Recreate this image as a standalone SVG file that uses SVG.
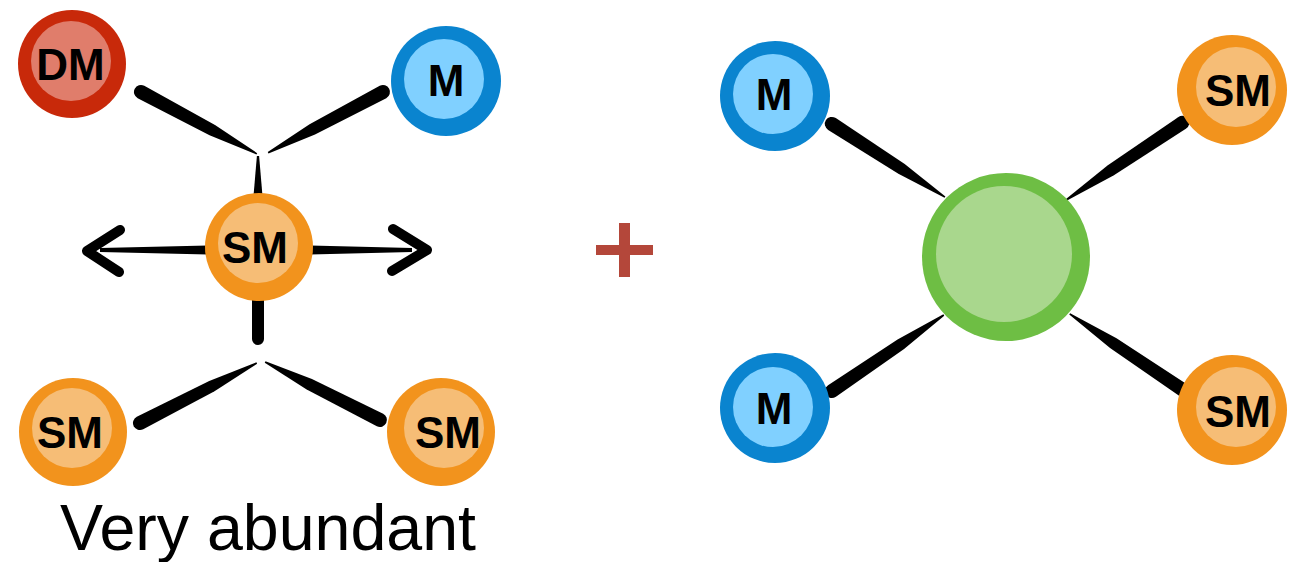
<svg xmlns="http://www.w3.org/2000/svg" width="1301" height="562" viewBox="0 0 1301 562">
  <style>
    .bg { fill: #ffffff; }
    .red-ring { fill: #C8290A; }
    .red-fill { fill: #E07D6B; }
    .blue-ring { fill: #0A84CF; }
    .blue-fill { fill: #80D0FF; }
    .orange-ring { fill: #F2931D; }
    .orange-fill { fill: #F6BD76; }
    .green-ring { fill: #6EBE44; }
    .green-fill { fill: #A9D78D; }
    .label { font-family: "Liberation Sans", Arial, sans-serif; font-weight: bold; font-size: 44px; fill: #000; text-anchor: middle; }
    .caption { font-family: "Liberation Sans", Arial, sans-serif; font-size: 64.5px; fill: #000; }
    .ink { fill: #000; }
    .chevron { fill: none; stroke: #000; stroke-width: 10; stroke-linecap: round; stroke-linejoin: round; }
    .plus { fill: #B4473A; }
  </style>
  <defs>
    <!-- brush stroke: thick rounded end at x=0, tapering to a point at x=130 -->
    <path id="brush" d="M 0 -7 L 80 -5.8 L 130 -0.8 L 130 0.8 L 80 5.8 L 0 7 A 7 7 0 0 1 0 -7 Z"/>
  </defs>

  <rect class="bg" x="0" y="0" width="1301" height="562"/>

  <g id="connectors">
    <!-- left cluster -->
    <use href="#brush" class="ink" transform="translate(141 92) rotate(28.1) scale(1.01 1)"/>
    <use href="#brush" class="ink" transform="translate(383 92) rotate(152.1) scale(1 1)"/>
    <path class="ink" d="M 253.5 196 L 256.9 156 L 259.1 156 L 262.5 196 Z"/>
    <line x1="258" y1="298" x2="258" y2="339" stroke="#000" stroke-width="12" stroke-linecap="round"/>
    <use href="#brush" class="ink" transform="translate(140 423) rotate(-27.2) scale(1.01 1)"/>
    <use href="#brush" class="ink" transform="translate(380 420) rotate(206.8) scale(0.99 1)"/>
    <!-- diffusion arrows -->
    <path class="ink" d="M 208 245.5 L 100 248 L 100 252 L 208 254.5 Z"/>
    <polyline class="chevron" points="120,230 87,251 119,272"/>
    <path class="ink" d="M 310 245.5 L 412 248 L 412 252 L 310 254.5 Z"/>
    <polyline class="chevron" points="393,229 427,250 392,271"/>
    <!-- right cluster -->
    <use href="#brush" class="ink" transform="translate(832 124) rotate(32.9) scale(1.035 1)"/>
    <use href="#brush" class="ink" transform="translate(1182 123) rotate(146.4) scale(1.07 1)"/>
    <use href="#brush" class="ink" transform="translate(832 391) rotate(-34.2) scale(1.04 1)"/>
    <use href="#brush" class="ink" transform="translate(1183 390) rotate(213.9) scale(1.05 1)"/>
  </g>

  <!-- left cluster nodes: outer ring disc with an off-centre inner fill -->
  <g id="node-dm" transform="translate(72 64)">
    <circle class="red-ring" r="54"/>
    <circle class="red-fill" cx="-1" cy="-3" r="40"/>
    <text class="label" x="-1.5" y="16">DM</text>
  </g>
  <g id="node-m-left" transform="translate(446 81)">
    <circle class="blue-ring" r="55"/>
    <circle class="blue-fill" cx="-2" cy="-2" r="40"/>
    <text class="label" x="0" y="15">M</text>
  </g>
  <g id="node-sm-center" transform="translate(259 247)">
    <circle class="orange-ring" r="54"/>
    <circle class="orange-fill" cx="-1" cy="-4" r="40"/>
    <text class="label" x="-4" y="16">SM</text>
  </g>
  <g id="node-sm-bottom-left" transform="translate(73 432)">
    <circle class="orange-ring" r="54"/>
    <circle class="orange-fill" cx="-1" cy="-4" r="40"/>
    <text class="label" x="-3" y="16">SM</text>
  </g>
  <g id="node-sm-bottom-right" transform="translate(441 432)">
    <circle class="orange-ring" r="54"/>
    <circle class="orange-fill" cx="3" cy="-4" r="40"/>
    <text class="label" x="7" y="16">SM</text>
  </g>

  <text id="caption" class="caption" x="60" y="550">Very abundant</text>

  <!-- plus sign -->
  <g id="plus">
    <rect class="plus" x="619" y="223" width="11" height="54"/>
    <rect class="plus" x="596" y="245" width="57" height="10"/>
  </g>

  <!-- right cluster nodes -->
  <g id="node-center" transform="translate(1006 257)">
    <circle class="green-ring" r="84"/>
    <circle class="green-fill" cx="-2" cy="-3" r="68"/>
  </g>
  <g id="node-m-top" transform="translate(775 96)">
    <circle class="blue-ring" r="55"/>
    <circle class="blue-fill" cx="-2" cy="-2" r="40"/>
    <text class="label" x="-1" y="14">M</text>
  </g>
  <g id="node-sm-top" transform="translate(1232 90)">
    <circle class="orange-ring" r="55"/>
    <circle class="orange-fill" cx="4" cy="-3" r="40"/>
    <text class="label" x="6" y="16">SM</text>
  </g>
  <g id="node-m-bottom" transform="translate(775 408)">
    <circle class="blue-ring" r="55"/>
    <circle class="blue-fill" cx="-2" cy="-1" r="40"/>
    <text class="label" x="-1" y="16">M</text>
  </g>
  <g id="node-sm-bottom" transform="translate(1232 410)">
    <circle class="orange-ring" r="55"/>
    <circle class="orange-fill" cx="4" cy="-3" r="40"/>
    <text class="label" x="6" y="17">SM</text>
  </g>
</svg>
